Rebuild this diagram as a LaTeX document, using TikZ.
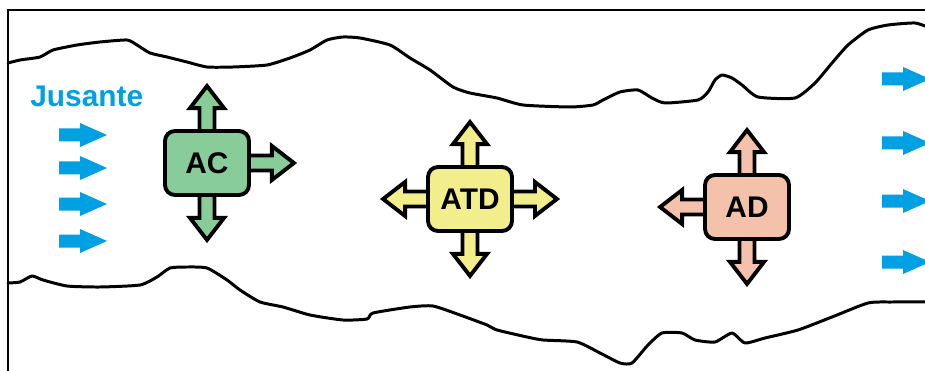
\documentclass[tikz,border=0pt]{standalone}
\usepackage{fontspec}
\setmainfont{Liberation Sans}
\usetikzlibrary{backgrounds}
\definecolor{flowblue}{RGB}{0,160,227}
\definecolor{acgreen}{RGB}{136,204,153}
\definecolor{atdyellow}{RGB}{242,238,140}
\definecolor{adsalmon}{RGB}{244,194,170}
\tikzset{
  bank/.style={line width=1.7pt,line join=round,line cap=round},
  zone/.style={draw,line width=2.2pt,rounded corners=0.2cm,inner sep=0pt,
    minimum width=1.68cm,minimum height=1.28cm,
    font=\fontsize{17}{17}\selectfont\bfseries},
  spoutline/.style={draw,line width=2.2pt,line join=miter}
}
% block arrow leaving a box: anchor, angle, fill colour
\newcommand{\spout}[3]{%
  \begin{scope}[shift={(#1)},rotate=#2]
    \filldraw[spoutline,fill=#3] (-10,-7.5) -- (21,-7.5) -- (21,-17) -- (43,0)
      -- (21,17) -- (21,7.5) -- (-10,7.5) -- cycle;
  \end{scope}}
\begin{document}
\begin{tikzpicture}[x=0.02cm,y=-0.02cm]
  \clip (0,0) rectangle (925,371);
  \draw[line width=1.1pt] (8,371) -- (8,10) -- (925,10);

  % river banks
  \draw[bank] plot[smooth,tension=0.35] coordinates {(8,63) (20,60) (40,57) (53,50) (77,45)
    (100,42) (127,40) (137,45) (150,53) (167,57) (187,62) (207,67) (233,67) (267,65)
    (290,58) (310,50) (327,40) (343,37) (360,38) (390,45) (410,58) (430,70) (453,87)
    (470,93) (497,98) (523,105) (570,107) (593,105) (603,100) (620,92) (638,90)
    (652,98) (665,103) (698,100) (708,92) (715,80) (722,75) (732,78) (742,85) (758,97)
    (795,98) (815,83) (832,63) (848,45) (868,30) (888,25) (915,23) (930,28)};
  \draw[bank] plot[smooth,tension=0.35] coordinates {(8,283) (20,282) (32,276) (43,280)
    (67,286) (100,287) (140,285) (157,277) (170,268) (187,267) (207,268) (227,280)
    (240,290) (260,302) (283,307) (310,315) (343,320) (367,319) (373,313) (410,307)
    (433,306) (460,315) (487,325) (497,330) (527,337) (543,340) (577,342) (600,353)
    (620,363) (632,363) (648,345) (662,333) (682,333) (695,340) (715,342) (732,333)
    (745,343) (765,338) (798,330) (832,317) (868,303) (892,302) (930,302)};

  % ebb current
  \node[text=flowblue,font=\fontsize{17}{17}\selectfont\bfseries,inner sep=0pt,
    anchor=base west] (jusante) at (30,107) {Jusante};
  \foreach \y in {135,168,204,241}
    \fill[flowblue] (59,\y) ++(0,-6.5) -- ++(21,0) -- ++(0,-5.5) -- ++(27,12)
      -- ++(-27,12) -- ++(0,-5.5) -- ++(-21,0) -- cycle;
  \foreach \y in {79,143,201,262}
    \fill[flowblue] (882,\y) ++(0,-6.5) -- ++(21,0) -- ++(0,-5.5) -- ++(27,12)
      -- ++(-27,12) -- ++(0,-5.5) -- ++(-21,0) -- cycle;

  \node[zone,fill=acgreen] (ac) at (207,163) {AC};
  \node[zone,fill=atdyellow] (atd) at (470,199) {ATD};
  \node[zone,fill=adsalmon] (ad) at (747,207) {AD};

  \begin{scope}[on background layer]
    \foreach \a/\r in {north/90,south/270,east/0}
      \spout{ac.\a}{\r}{acgreen};
    \foreach \a/\r in {north/90,south/270,east/0,west/180}
      \spout{atd.\a}{\r}{atdyellow};
    \foreach \a/\r in {north/90,south/270,west/180}
      \spout{ad.\a}{\r}{adsalmon};
  \end{scope}
\end{tikzpicture}
\end{document}
